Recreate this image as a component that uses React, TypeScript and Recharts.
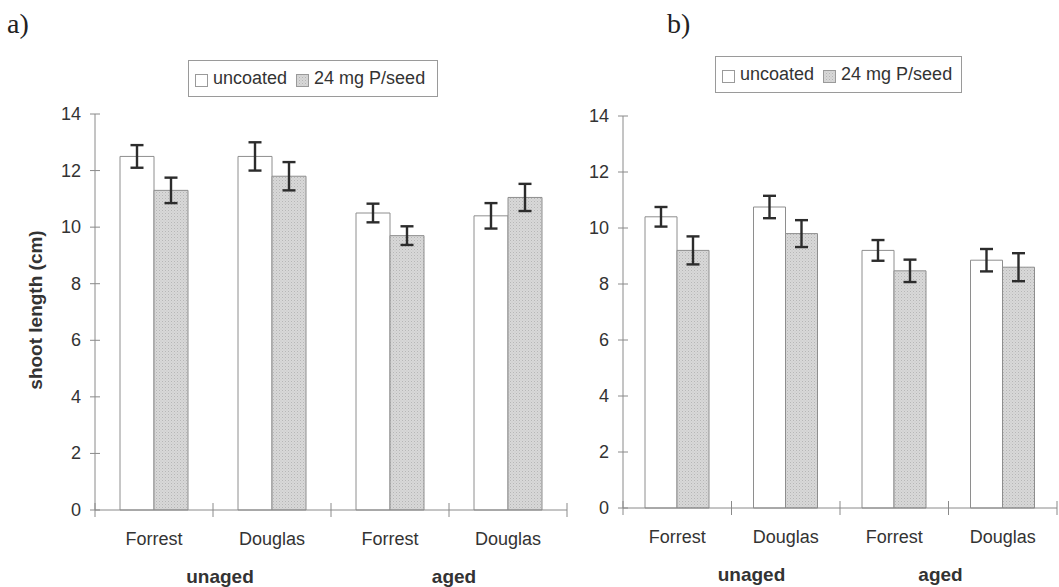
import { BarChart, Bar, XAxis, YAxis, ErrorBar, Legend } from "recharts";

const varieties = ["Forrest", "Douglas", "Forrest", "Douglas"];
const ageGroups = ["unaged", "aged"];
const seriesNames = ["uncoated", "24 mg P/seed"];
const yTicks = [0, 2, 4, 6, 8, 10, 12, 14];

// a) shoot length, cm
const uncoatedA = [12.5, 12.5, 10.5, 10.4];
const uncoatedErrA = [0.4, 0.5, 0.33, 0.45];
const coatedA = [11.3, 11.8, 9.7, 11.05];
const coatedErrA = [0.45, 0.5, 0.33, 0.48];

// b) shoot length, cm
const uncoatedB = [10.4, 10.75, 9.2, 8.85];
const uncoatedErrB = [0.35, 0.4, 0.37, 0.4];
const coatedB = [9.2, 9.8, 8.47, 8.6];
const coatedErrB = [0.5, 0.48, 0.4, 0.5];

const FONT = '"Liberation Sans", Arial, sans-serif';
const INK = "#333";
const AXIS = "#8a8a8a";
const BAR_EDGE = "#8e8e8e";
const WHISKER = "#2c2c2c";

const buildRows = (u: number[], ue: number[], c: number[], ce: number[]) =>
  varieties.map((variety, i) => ({
    variety,
    uncoated: u[i],
    uncoatedErr: ue[i],
    coated: c[i],
    coatedErr: ce[i],
  }));

function makeYTick(axisX: number) {
  return (props: any) => {
    const y = props.payload?.coordinate ?? props.y;
    return (
      <g>
        <line x1={axisX - 5} x2={axisX + 5} y1={y} y2={y} stroke={AXIS} />
        <text x={axisX - 14} y={y + 6} textAnchor="end" fontSize={18} fill={INK} fontFamily={FONT}>
          {props.payload.value}
        </text>
      </g>
    );
  };
}

function makeXTick(axisY: number, half: number, groupShift: number[]) {
  return (props: any) => {
    const index = props.index ?? props.payload.index;
    const x = props.payload?.coordinate ?? props.x;
    const last = index === varieties.length - 1;
    return (
      <g>
        <line x1={x - half} x2={x - half} y1={axisY - 7} y2={axisY + 7} stroke={AXIS} />
        {last && <line x1={x + half} x2={x + half} y1={axisY - 7} y2={axisY + 7} stroke={AXIS} />}
        <text x={x} y={axisY + 35} textAnchor="middle" fontSize={18} fill={INK} fontFamily={FONT}>
          {varieties[index]}
        </text>
        {index % 2 === 0 && (
          <text
            x={x + half + groupShift[index / 2]}
            y={axisY + 73}
            textAnchor="middle"
            fontSize={19}
            fontWeight="bold"
            fill={INK}
            fontFamily={FONT}
          >
            {ageGroups[index / 2]}
          </text>
        )}
      </g>
    );
  };
}

function YTitle({ viewBox }: any) {
  const cx = 42;
  const cy = viewBox.y + viewBox.height / 2 - 2;
  return (
    <text
      x={cx}
      y={cy}
      transform={`rotate(-90, ${cx}, ${cy})`}
      textAnchor="middle"
      fontSize={19}
      fontWeight="bold"
      fill={INK}
      fontFamily={FONT}
    >
      shoot length (cm)
    </text>
  );
}

function LegendBox({ payload, width }: any) {
  // keep the series order, not the alphabetical one
  const items = [...(payload || [])].sort(
    (a: any, b: any) => seriesNames.indexOf(a.value) - seriesNames.indexOf(b.value)
  );
  return (
    <div
      style={{
        width,
        boxSizing: "border-box",
        border: "1px solid #9a9a9a",
        padding: "7px 0 8px 6px",
        fontFamily: FONT,
        fontSize: 18,
        lineHeight: "20px",
        color: INK,
        whiteSpace: "nowrap",
        background: "#fff",
      }}
    >
      {items.map((entry: any, i: number) => (
        <span key={i} style={{ marginRight: 9 }}>
          <svg width={14} height={14} style={{ verticalAlign: -4, marginRight: 4 }}>
            <rect x={0.5} y={0.5} width={12} height={12} fill={entry.color} stroke="#9a9a9a" />
          </svg>
          {entry.value}
        </span>
      ))}
    </div>
  );
}

interface PanelProps {
  rows: ReturnType<typeof buildRows>;
  left: number;
  width: number;
  margin: { top: number; right: number; bottom: number; left: number };
  yAxisWidth: number;
  barSize: number;
  legendAt: { left: number; top: number; width: number };
  groupShift: number[];
  patternId: string;
  showTitle: boolean;
}

const HEIGHT = 587;
const X_AXIS_HEIGHT = 50;

function Panel(p: PanelProps) {
  const plotLeft = p.margin.left + p.yAxisWidth;
  const plotRight = p.width - p.margin.right;
  const axisY = HEIGHT - p.margin.bottom - X_AXIS_HEIGHT;
  const half = (plotRight - plotLeft) / varieties.length / 2;
  const coatedFill = `url(#${p.patternId})`;

  return (
    <div style={{ position: "absolute", left: p.left, top: 0 }}>
      <BarChart width={p.width} height={HEIGHT} data={p.rows} margin={p.margin} barGap={0}>
        <defs>
          <pattern id={p.patternId} width={3} height={3} patternUnits="userSpaceOnUse">
            <rect width={3} height={3} fill="#d8d8d8" />
            <rect width={1} height={1} fill="#b6b6b6" />
            <rect x={1.5} y={1.5} width={1} height={1} fill="#c6c6c6" />
          </pattern>
        </defs>
        <XAxis
          dataKey="variety"
          height={X_AXIS_HEIGHT}
          stroke={AXIS}
          tickLine={false}
          interval={0}
          tick={makeXTick(axisY, half, p.groupShift)}
        />
        <YAxis
          width={p.yAxisWidth}
          domain={[0, 14]}
          ticks={yTicks}
          interval={0}
          stroke={AXIS}
          tickLine={false}
          tick={makeYTick(plotLeft)}
          label={p.showTitle ? <YTitle /> : undefined}
        />
        <Legend
          layout="horizontal"
          verticalAlign="middle"
          align="center"
          wrapperStyle={{ left: p.legendAt.left, top: p.legendAt.top, width: p.legendAt.width }}
          content={(props: any) => <LegendBox payload={props.payload} width={p.legendAt.width} />}
        />
        <Bar
          dataKey="uncoated"
          name={seriesNames[0]}
          fill="#ffffff"
          stroke={BAR_EDGE}
          strokeWidth={1}
          barSize={p.barSize}
          isAnimationActive={false}
        >
          <ErrorBar
            dataKey="uncoatedErr"
            direction="y"
            width={6.5}
            stroke={WHISKER}
            strokeWidth={2.4}
            isAnimationActive={false}
          />
        </Bar>
        <Bar
          dataKey="coated"
          name={seriesNames[1]}
          fill={coatedFill}
          stroke={BAR_EDGE}
          strokeWidth={1}
          barSize={p.barSize}
          isAnimationActive={false}
        >
          <ErrorBar
            dataKey="coatedErr"
            direction="y"
            width={6.5}
            stroke={WHISKER}
            strokeWidth={2.4}
            isAnimationActive={false}
          />
        </Bar>
      </BarChart>
    </div>
  );
}

const panelLabel = (text: string, left: number) => (
  <div
    style={{
      position: "absolute",
      left,
      top: 10,
      fontFamily: '"Liberation Serif", "Times New Roman", serif',
      fontSize: 28,
      lineHeight: 1,
      color: "#222",
    }}
  >
    {text}
  </div>
);

export default function App() {
  return (
    <div
      style={{
        position: "absolute",
        left: 0,
        top: 0,
        width: 1059,
        height: HEIGHT,
        background: "#fff",
        overflow: "hidden",
      }}
    >
      {panelLabel("a)", 7)}
      {panelLabel("b)", 667)}
      <Panel
        rows={buildRows(uncoatedA, uncoatedErrA, coatedA, coatedErrA)}
        left={0}
        width={580}
        margin={{ top: 114, right: 13, bottom: 27, left: 10 }}
        yAxisWidth={85}
        barSize={34}
        legendAt={{ left: 188, top: 60, width: 250 }}
        groupShift={[7, 5]}
        patternId="stippleA"
        showTitle
      />
      <Panel
        rows={buildRows(uncoatedB, uncoatedErrB, coatedB, coatedErrB)}
        left={580}
        width={479}
        margin={{ top: 116, right: 2, bottom: 29, left: 0 }}
        yAxisWidth={43}
        barSize={32}
        legendAt={{ left: 135, top: 56, width: 247 }}
        groupShift={[20, -8]}
        patternId="stippleB"
        showTitle={false}
      />
    </div>
  );
}
